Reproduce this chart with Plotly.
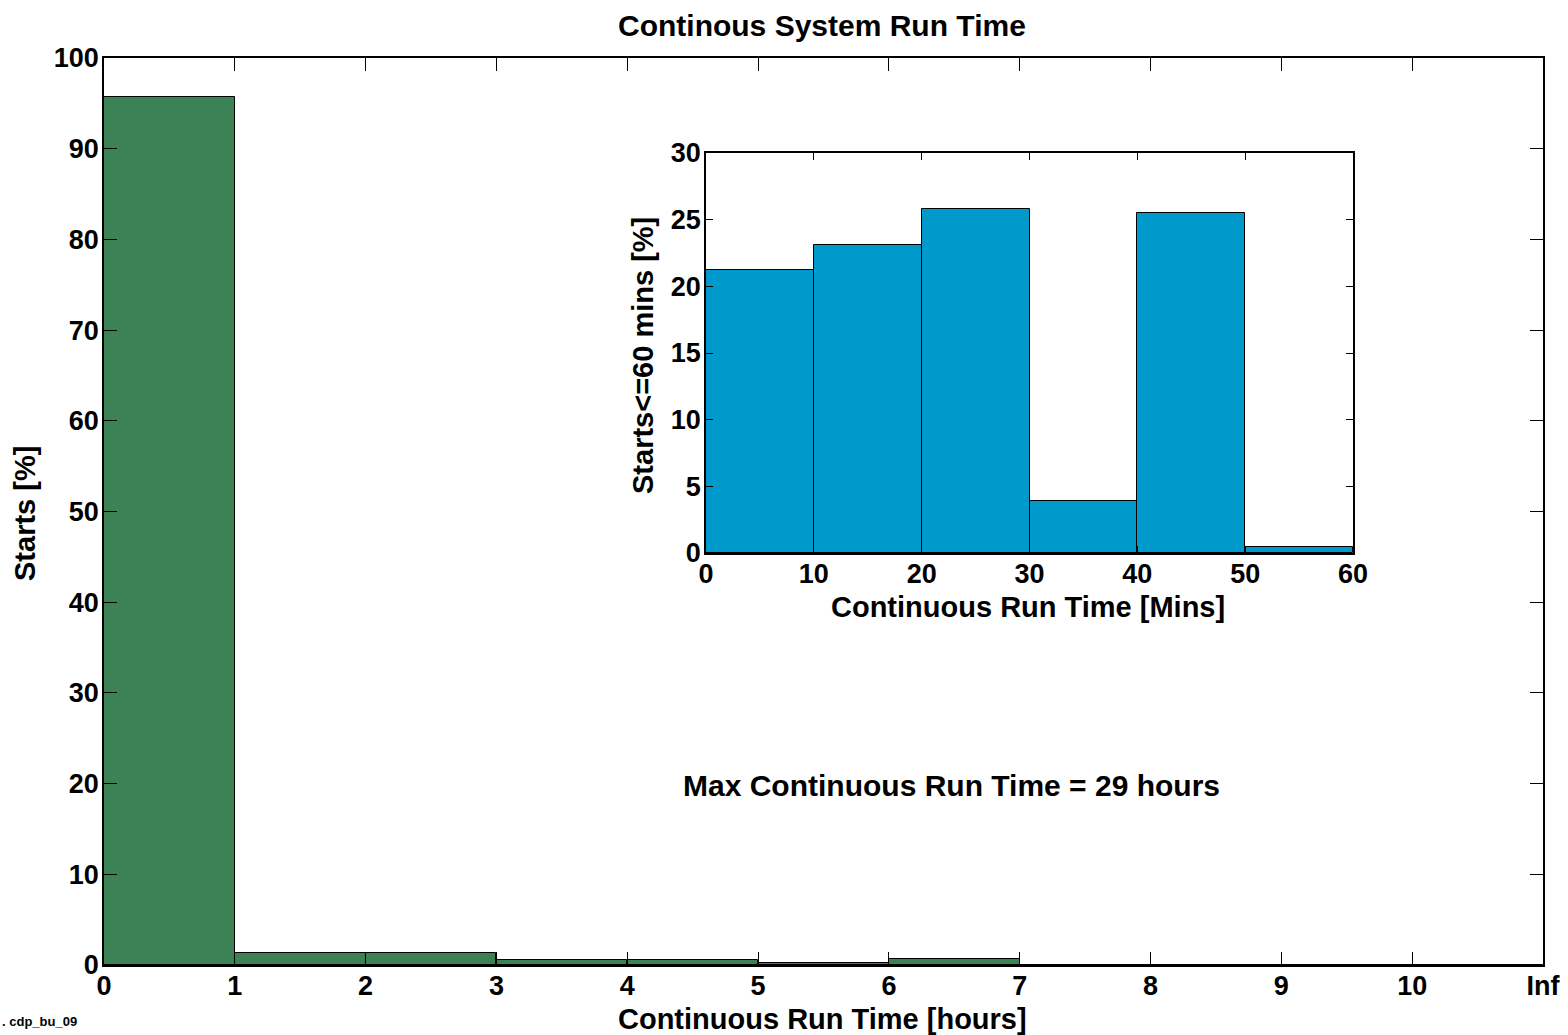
import plotly.graph_objects as go

# Main histogram (hours)
hour_bins = ["0-1", "1-2", "2-3", "3-4", "4-5", "5-6", "6-7", "7-8", "8-9", "9-10", "10-Inf"]
hour_pct = [95.7, 1.3, 1.3, 0.5, 0.5, 0.22, 0.63, 0.05, 0.05, 0.05, 0.05]
hour_tick_labels = ["0", "1", "2", "3", "4", "5", "6", "7", "8", "9", "10", "Inf"]

# Inset histogram (minutes)
min_bin_left = [0, 10, 20, 30, 40, 50]
min_pct = [21.2, 23.1, 25.8, 3.9, 25.5, 0.45]

FONT = "Liberation Sans, Arial, sans-serif"
GREEN = "#3b8254"
BLUE = "#0099cc"

W, H = 1568, 1035
L, R, T, B = 104, 25, 58, 70
PW, PH = W - L - R, H - T - B

fig = go.Figure()

fig.add_trace(go.Bar(
    x=[i + 0.5 for i in range(len(hour_pct))],
    y=hour_pct,
    width=1,
    marker=dict(color=GREEN, line=dict(color="black", width=1)),
    xaxis="x", yaxis="y",
    hoverinfo="y",
))

fig.add_trace(go.Bar(
    x=[b + 5 for b in min_bin_left],
    y=min_pct,
    width=10,
    marker=dict(color=BLUE, line=dict(color="black", width=1)),
    xaxis="x2", yaxis="y2",
    hoverinfo="y",
))

tickfont = dict(family=FONT, size=27, color="black", weight="bold")


def px_x(p):
    return (p - L) / PW


def px_y(p):
    return (H - B - p) / PH


fig.update_layout(
    width=W, height=H,
    margin=dict(l=L, r=R, t=T, b=B, autoexpand=False),
    paper_bgcolor="white", plot_bgcolor="white",
    showlegend=False,
    bargap=0,
    xaxis=dict(
        domain=[0, 1], range=[0, 11],
        tickmode="array", tickvals=list(range(len(hour_tick_labels))), ticktext=hour_tick_labels,
        ticks="inside", ticklen=13, tickcolor="black", tickwidth=1,
        showline=True, linecolor="black", linewidth=1.5, mirror="ticks",
        showgrid=False, zeroline=False,
        tickfont=tickfont, ticklabelstandoff=-4,
    ),
    yaxis=dict(
        domain=[0, 1], range=[0, 100],
        tickmode="linear", tick0=0, dtick=10,
        ticks="inside", ticklen=13, tickcolor="black", tickwidth=1,
        showline=True, linecolor="black", linewidth=1.5, mirror="ticks",
        showgrid=False, zeroline=False,
        tickfont=tickfont, ticklabelstandoff=-2,
    ),
    xaxis2=dict(
        domain=[px_x(706), px_x(1353)], anchor="y2", range=[0, 60],
        tickmode="linear", tick0=0, dtick=10,
        ticks="inside", ticklen=7, tickcolor="black", tickwidth=1,
        showline=True, linecolor="black", linewidth=1.5, mirror="ticks",
        showgrid=False, zeroline=False,
        tickfont=tickfont, ticklabelstandoff=-4,
    ),
    yaxis2=dict(
        domain=[px_y(553), px_y(153)], anchor="x2", range=[0, 30],
        tickmode="linear", tick0=0, dtick=5,
        ticks="inside", ticklen=7, tickcolor="black", tickwidth=1,
        showline=True, linecolor="black", linewidth=1.5, mirror="ticks",
        showgrid=False, zeroline=False,
        tickfont=tickfont, ticklabelstandoff=-2,
    ),
)


def add_text(text, x, y, size=29, angle=0, xanchor="center", yanchor="middle"):
    fig.add_annotation(
        text=text, x=px_x(x), y=px_y(y), xref="paper", yref="paper",
        xanchor=xanchor, yanchor=yanchor, textangle=angle,
        showarrow=False, font=dict(family=FONT, size=size, color="black", weight="bold"),
    )

add_text("Continous System Run Time", 822, 25, size=30)
add_text("Continuous Run Time [hours]", 822, 1019)
add_text("Starts [%]", 25, 514, angle=-90)
add_text("Continuous Run Time [Mins]", 1028, 607)
add_text("Starts<=60 mins [%]", 643, 356, angle=-90)
add_text("Max Continuous Run Time = 29 hours", 951, 785, size=30)
add_text(". cdp_bu_09", 0, 1021, size=13, xanchor="left")

fig.write_html("out.html", config={"displayModeBar": False},
               post_script="document.body.style.margin='0px';")
